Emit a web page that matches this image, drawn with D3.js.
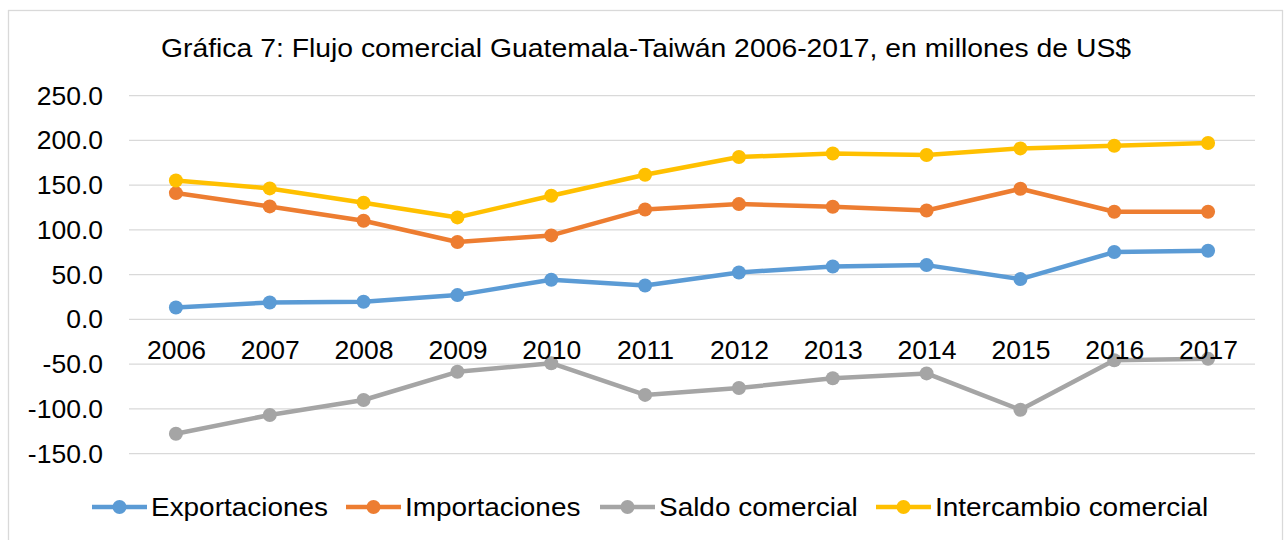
<!DOCTYPE html>
<html>
<head>
<meta charset="utf-8">
<script src="https://cdn.jsdelivr.net/npm/d3@7"></script>
<style>
  body { margin: 0; background: #fff; }
  svg { display: block; font-family: "Liberation Sans", Arial, sans-serif; }
</style>
</head>
<body>
<div id="container"></div>
<script>
/* DATA */
const years = ["2006","2007","2008","2009","2010","2011","2012","2013","2014","2015","2016","2017"];
const exportaciones = [13.4, 19.0, 19.8, 27.2, 44.4, 38.0, 52.5, 59.2, 60.7, 45.1, 75.3, 76.8];
const importaciones = [141.2, 126.3, 110.3, 86.5, 93.9, 122.9, 128.9, 125.9, 121.8, 146.0, 120.3, 120.3];
const saldo = [-127.7, -106.7, -90.0, -58.5, -48.9, -84.3, -76.6, -65.7, -60.3, -100.9, -45.6, -44.0];
const intercambio = [155.3, 146.4, 130.4, 114.0, 138.2, 161.7, 181.5, 185.5, 183.7, 191.1, 194.1, 197.1];
const yTicks = [-150, -100, -50, 0, 50, 100, 150, 200, 250];
const seriesNames = ["Exportaciones", "Importaciones", "Saldo comercial", "Intercambio comercial"];
const seriesColors = ["#5B9BD5", "#ED7D31", "#A5A5A5", "#FFC000"];

/* CONSTANTS */
const width = 1284, height = 540;
const plot = {left: 129, right: 1255, top: 95.7, bottom: 453.7};
const fontSize = 26.5;

const series = [exportaciones, importaciones, saldo, intercambio].map((vals, i) => ({
  name: seriesNames[i],
  color: seriesColors[i],
  values: vals.map((v, j) => ({year: years[j], value: v}))
}));

const svg = d3.select("#container").append("svg")
  .attr("width", width)
  .attr("height", height);

// chart border
svg.append("rect")
  .attr("x", 8.5).attr("y", 10.5)
  .attr("width", 1274).attr("height", 560)
  .attr("fill", "#fff")
  .attr("stroke", "#D9D9D9")
  .attr("stroke-width", 1.3);

// scales
const xScale = d3.scalePoint()
  .domain(years)
  .range([plot.left, plot.right])
  .padding(0.5);

const yScale = d3.scaleLinear()
  .domain([-150, 250])
  .range([plot.bottom, plot.top]);

// gridlines
svg.append("g")
  .selectAll("line")
  .data(yTicks)
  .join("line")
  .attr("x1", plot.left).attr("x2", plot.right)
  .attr("y1", d => yScale(d)).attr("y2", d => yScale(d))
  .attr("stroke", "#D9D9D9")
  .attr("stroke-width", 1.3);

// y axis labels (plain hyphen for negatives, like the original)
const fmt = d3.format(".1f");
const yAxis = d3.axisLeft(yScale)
  .tickValues(yTicks)
  .tickFormat(d => fmt(d).replace("\u2212", "-"))
  .tickSize(0)
  .tickPadding(26);

svg.append("g")
  .attr("transform", `translate(${plot.left},0)`)
  .call(yAxis)
  .call(g => g.select(".domain").remove())
  .selectAll("text")
  .attr("font-size", fontSize)
  .attr("font-family", "Liberation Sans, Arial, sans-serif")
  .attr("fill", "#000");

// lines + markers
const line = d3.line()
  .x(d => xScale(d.year))
  .y(d => yScale(d.value));

const sg = svg.append("g")
  .selectAll("g")
  .data(series)
  .join("g");

sg.append("path")
  .attr("d", d => line(d.values))
  .attr("fill", "none")
  .attr("stroke", d => d.color)
  .attr("stroke-width", 4.5)
  .attr("stroke-linejoin", "round");

sg.selectAll("circle")
  .data(d => d.values.map(v => ({...v, color: d.color})))
  .join("circle")
  .attr("cx", d => xScale(d.year))
  .attr("cy", d => yScale(d.value))
  .attr("r", 7)
  .attr("fill", d => d.color);

// x axis labels (below the zero line)
const xAxis = d3.axisBottom(xScale).tickSize(0).tickPadding(21);
svg.append("g")
  .attr("transform", `translate(0,${yScale(0)})`)
  .call(xAxis)
  .call(g => g.select(".domain").remove())
  .selectAll("text")
  .attr("font-size", fontSize)
  .attr("font-family", "Liberation Sans, Arial, sans-serif")
  .attr("fill", "#000");

// title (the original glyphs are slightly wide, so stretch a little)
svg.append("text")
  .attr("transform", "translate(646,57) scale(1.09,1)")
  .attr("text-anchor", "middle")
  .attr("font-size", 26)
  .attr("fill", "#000")
  .text("Gráfica 7: Flujo comercial Guatemala-Taiwán 2006-2017, en millones de US$");

// legend
const legendX = [92, 346, 600, 876];
const legend = svg.append("g")
  .selectAll("g")
  .data(series)
  .join("g")
  .attr("transform", (d, i) => `translate(${legendX[i]},507)`);

legend.append("line")
  .attr("x1", 0).attr("x2", 55)
  .attr("stroke", d => d.color)
  .attr("stroke-width", 4.5);

legend.append("circle")
  .attr("cx", 27.5).attr("r", 7)
  .attr("fill", d => d.color);

legend.append("text")
  .attr("transform", "translate(59,9) scale(1.054,1)")
  .attr("font-size", fontSize)
  .attr("fill", "#000")
  .text(d => d.name);
</script>
</body>
</html>
